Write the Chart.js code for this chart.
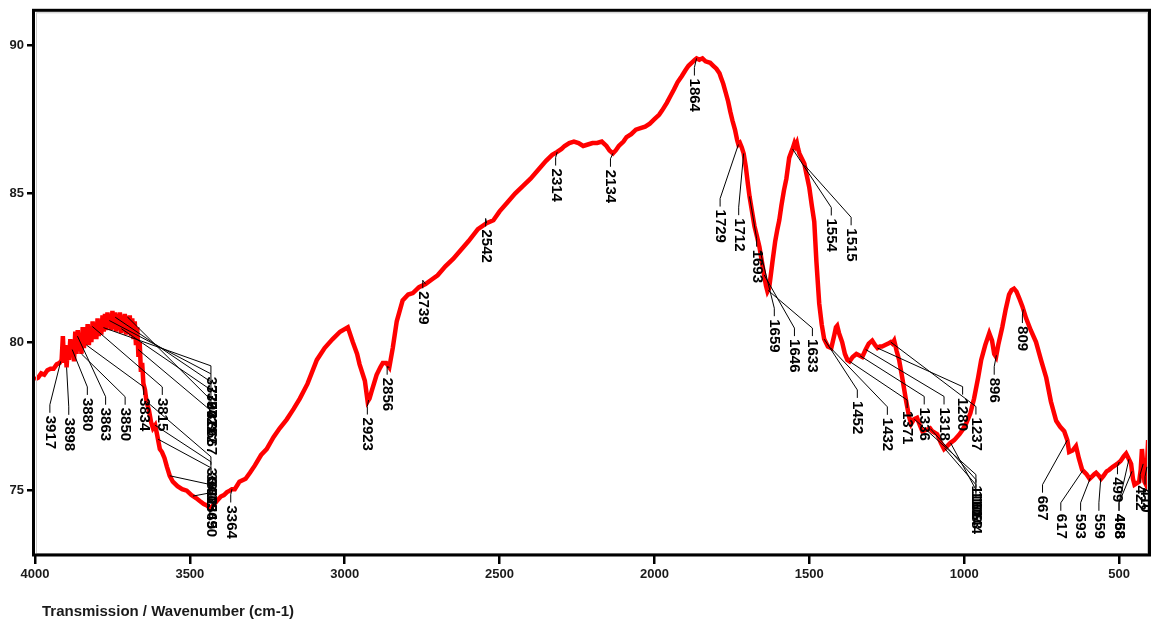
<!DOCTYPE html>
<html>
<head>
<meta charset="utf-8">
<title>IR spectrum</title>
<script src="https://cdn.jsdelivr.net/npm/chart.js@4/dist/chart.umd.min.js"></script>
<style>
  html, body { margin: 0; padding: 0; background: #fff; }
  #wrap { width: 1152px; height: 623px; }
</style>
</head>
<body>
<div id="wrap"><canvas id="ir" width="1152" height="623"></canvas></div>
<script>
// spectrum, wavenumber (cm-1) against transmission (%)
const wavenumbers = [
  4000, 3990, 3980, 3970, 3960, 3950, 3940, 3930, 3920, 3914, 3910, 3906, 3902, 3898, 3894, 3890,
  3886, 3882, 3878, 3874, 3870, 3866, 3862, 3858, 3854, 3850, 3846, 3842, 3838, 3834, 3830, 3826,
  3822, 3818, 3814, 3810, 3806, 3802, 3798, 3794, 3790, 3786, 3782, 3778, 3774, 3770, 3766, 3762,
  3758, 3754, 3750, 3746, 3742, 3738, 3734, 3730, 3726, 3722, 3718, 3714, 3710, 3706, 3702, 3698,
  3694, 3690, 3686, 3682, 3678, 3674, 3670, 3666, 3662, 3658, 3654, 3650, 3645, 3640, 3632, 3625,
  3619, 3612, 3606, 3597, 3590, 3582, 3574, 3565, 3555, 3540, 3525, 3510, 3495, 3480, 3468, 3455,
  3445, 3435, 3425, 3413, 3400, 3390, 3380, 3371, 3364, 3355, 3340, 3320, 3306, 3290, 3270, 3252,
  3230, 3210, 3187, 3165, 3145, 3120, 3090, 3065, 3039, 3015, 2990, 2974, 2960, 2952, 2935, 2926,
  2920, 2913, 2897, 2885, 2877, 2866, 2856, 2845, 2832, 2813, 2795, 2780, 2760, 2739, 2720, 2700,
  2675, 2650, 2625, 2600, 2570, 2542, 2520, 2500, 2475, 2450, 2425, 2400, 2375, 2350, 2330, 2314,
  2300, 2290, 2275, 2260, 2245, 2230, 2215, 2200, 2185, 2170, 2155, 2145, 2134, 2125, 2115, 2100,
  2090, 2075, 2060, 2045, 2030, 2015, 2000, 1985, 1975, 1960, 1950, 1937, 1925, 1912, 1900, 1890,
  1880, 1870, 1864, 1855, 1845, 1835, 1820, 1810, 1800, 1790, 1785, 1778, 1770, 1762, 1755, 1748,
  1740, 1733, 1729, 1724, 1718, 1712, 1705, 1698, 1693, 1685, 1677, 1670, 1661, 1653, 1645, 1640,
  1635, 1630, 1625, 1619, 1610, 1603, 1597, 1590, 1582, 1574, 1565, 1558, 1554, 1548, 1544, 1540,
  1536, 1532, 1525, 1516, 1508, 1500, 1492, 1484, 1477, 1468, 1460, 1452, 1440, 1429, 1420, 1414,
  1410, 1404, 1394, 1385, 1377, 1370, 1360, 1348, 1338, 1329, 1318, 1308, 1297, 1288, 1280, 1272,
  1265, 1255, 1245, 1237, 1232, 1226, 1218, 1210, 1200, 1187, 1178, 1171, 1162, 1152, 1143, 1135,
  1120, 1110, 1103, 1095, 1087, 1075, 1065, 1055, 1045, 1032, 1015, 1005, 994, 980, 968, 955,
  945, 932, 919, 910, 903, 897, 890, 877, 866, 855, 847, 839, 831, 823, 812, 800,
  785, 768, 752, 735, 720, 703, 690, 677, 667, 661, 650, 639, 630, 619, 605, 595,
  590, 580, 574, 565, 558, 550, 540, 532, 520, 506, 495, 485, 477, 470, 461, 455,
  450, 442, 435, 430, 426, 422, 418, 413, 410, 406, 402, 400
];
const transmission = [
  78.75, 78.8, 78.95, 78.9, 79.05, 79.1, 79.1, 79.25, 79.3, 79.4, 80.2, 79.3, 79.9, 79.15, 79.8, 79.4,
  80.1, 79.5, 80.0, 79.35, 80.35, 79.6, 80.4, 79.7, 80.3, 79.6, 80.5, 79.8, 80.5, 79.9, 80.6, 79.9,
  80.5, 80.0, 80.7, 80.1, 80.65, 80.1, 80.8, 80.2, 80.75, 80.25, 80.9, 80.35, 80.95, 80.4, 81.0, 80.5,
  80.95, 80.4, 81.05, 80.45, 81.0, 80.35, 80.95, 80.4, 81.0, 80.3, 80.9, 80.35, 80.95, 80.25, 80.85, 80.3,
  80.9, 80.2, 80.8, 80.1, 80.7, 79.9, 80.5, 79.5, 80.0, 79.0, 79.3, 78.6, 78.4, 78.0, 77.7, 77.3,
  77.1, 77.2, 76.9, 76.4, 76.3, 76.1, 75.8, 75.5, 75.3, 75.15, 75.05, 75.0, 74.85, 74.75, 74.65, 74.55,
  74.5, 74.4, 74.5, 74.65, 74.8, 74.85, 74.95, 75.0, 75.05, 75.05, 75.3, 75.4, 75.6, 75.85, 76.2, 76.4,
  76.8, 77.1, 77.4, 77.75, 78.1, 78.6, 79.4, 79.8, 80.1, 80.35, 80.5, 80.0, 79.6, 79.25, 78.7, 78.0,
  78.1, 78.35, 78.9, 79.15, 79.3, 79.3, 79.15, 79.8, 80.7, 81.4, 81.6, 81.65, 81.85, 81.95, 82.1, 82.25,
  82.55, 82.8, 83.1, 83.4, 83.8, 84.0, 84.1, 84.4, 84.7, 85.0, 85.25, 85.5, 85.8, 86.1, 86.3, 86.4,
  86.5, 86.6, 86.7, 86.75, 86.7, 86.6, 86.65, 86.7, 86.7, 86.75, 86.6, 86.45, 86.35, 86.45, 86.6, 86.75,
  86.9, 87.0, 87.15, 87.2, 87.25, 87.35, 87.5, 87.65, 87.8, 88.05, 88.25, 88.5, 88.75, 88.95, 89.15, 89.3,
  89.4, 89.5, 89.55, 89.5, 89.55, 89.45, 89.4, 89.3, 89.2, 89.05, 88.9, 88.7, 88.4, 88.1, 87.75, 87.45,
  87.15, 86.8, 86.65, 86.7, 86.55, 86.35, 85.9, 85.3, 84.9, 84.4, 83.9, 83.6, 83.2, 82.7, 82.2, 81.9,
  81.7, 81.8, 82.2, 82.7, 83.4, 83.8, 84.1, 84.6, 85.1, 85.5, 86.2, 86.4, 86.5, 86.7, 86.6, 86.7,
  86.5, 86.35, 86.2, 86.0, 85.6, 85.2, 84.6, 84.05, 82.7, 81.3, 80.6, 80.1, 79.85, 79.8, 80.2, 80.5,
  80.55, 80.3, 80.0, 79.6, 79.4, 79.35, 79.5, 79.6, 79.55, 79.5, 79.75, 79.95, 80.05, 79.9, 79.8, 79.85,
  79.85, 79.9, 79.95, 80.0, 79.95, 80.05, 79.7, 79.4, 78.8, 78.0, 77.5, 77.25, 77.4, 77.45, 77.2, 77.0,
  77.05, 77.1, 77.0, 76.95, 76.9, 76.6, 76.4, 76.5, 76.6, 76.7, 76.9, 77.05, 77.25, 77.6, 78.1, 78.8,
  79.4, 79.9, 80.3, 80.05, 79.6, 79.5, 79.9, 80.5, 81.1, 81.6, 81.75, 81.8, 81.7, 81.5, 81.2, 80.8,
  80.4, 80.0, 79.4, 78.8, 78.0, 77.35, 77.15, 77.0, 76.7, 76.3, 76.35, 76.5, 76.1, 75.7, 75.55, 75.4,
  75.45, 75.55, 75.6, 75.5, 75.4, 75.5, 75.65, 75.7, 75.8, 75.9, 76.0, 76.15, 76.25, 76.1, 75.9, 75.4,
  75.2, 75.25, 75.3, 75.7, 76.4, 75.9, 75.3, 75.2, 75.8, 76.7, 76.2, 76.4
];

const xTickValues = [4000, 3500, 3000, 2500, 2000, 1500, 1000, 500];
const yTickValues = [75, 80, 85, 90];

// picked peaks (cm-1)
const peaks = [
  3917, 3898, 3880, 3863, 3850, 3834, 3815,
  3779, 3760, 3741, 3721, 3702, 3667,
  3640, 3612, 3603, 3565, 3490, 3364,
  2923, 2856, 2739, 2542, 2314, 2134, 1864,
  1729, 1712, 1693, 1659, 1646, 1633, 1554, 1515,
  1452, 1432, 1371, 1336, 1318, 1280, 1237,
  1161, 1109, 1063, 1044, 896, 809,
  667, 617, 593, 559, 499, 468, 458, 422, 410
];
// where each peak's text starts, as [wavenumber, transmission]
const peakLabelSpots = [
  [3952, 77.52], [3891, 77.45], [3831, 78.12], [3772, 77.79], [3709, 77.79], [3649, 78.12], [3589, 78.12],
  [3432, 78.83], [3432, 78.56], [3432, 78.29], [3432, 78.02], [3432, 77.68], [3432, 77.32],
  [3432, 75.77], [3432, 75.6], [3432, 75.4], [3432, 74.83], [3432, 74.56], [3368, 74.5],
  [2927, 77.46], [2863, 78.8], [2748, 81.71], [2545, 83.79], [2319, 85.84], [2142, 85.8], [1871, 88.87],
  [1788, 84.46], [1728, 84.17], [1670, 83.11], [1613, 80.77], [1548, 80.1], [1490, 80.1], [1429, 84.16], [1365, 83.83],
  [1345, 78.02], [1248, 77.45], [1184, 77.68], [1129, 77.8], [1065, 77.8], [1005, 78.13], [962, 77.46],
  [962, 75.17], [962, 75.0], [962, 74.83], [962, 74.66], [903, 78.8], [812, 80.54],
  [747, 74.83], [688, 74.22], [624, 74.22], [565, 74.22], [505, 75.45], [500, 74.22], [500, 74.22], [432, 75.17], [416, 75.1]
];

const FONT = '"Liberation Sans", Arial, sans-serif';
Chart.defaults.font.family = FONT;

function transmissionAt(wn) {
  for (let i = 1; i < wavenumbers.length; i++) {
    if (wn >= wavenumbers[i]) {
      const w0 = wavenumbers[i - 1], w1 = wavenumbers[i];
      const f = (w0 - wn) / (w0 - w1);
      return transmission[i - 1] + f * (transmission[i] - transmission[i - 1]);
    }
  }
  return transmission[transmission.length - 1];
}

// heavy black box round the plot, with a faint grey edge inside it
const framePlugin = {
  id: 'frame',
  afterDatasetsDraw(chart) {
    const {ctx, chartArea: a} = chart;
    ctx.save();
    ctx.strokeStyle = '#c8c8c8';
    ctx.lineWidth = 1;
    ctx.strokeRect(a.left + 1.5, a.top + 2, a.right - a.left - 4, a.bottom - a.top - 4.5);
    ctx.strokeStyle = '#000';
    ctx.lineWidth = 3;
    ctx.strokeRect(a.left - 1.5, a.top - 0.5, a.right - a.left + 1, a.bottom - a.top - 0.5);
    ctx.restore();
  }
};

// vertical peak numbers with leader lines back to the trace
const peakLabelPlugin = {
  id: 'peakLabels',
  afterDatasetsDraw(chart) {
    const {ctx, scales: {x, y}} = chart;
    ctx.save();
    ctx.strokeStyle = '#000';
    ctx.fillStyle = '#000';
    ctx.lineWidth = 1;
    ctx.font = 'bold 15px ' + FONT;
    ctx.textAlign = 'left';
    ctx.textBaseline = 'middle';
    peaks.forEach((wn, i) => {
      const ax = x.getPixelForValue(wn);
      const ay = y.getPixelForValue(transmissionAt(wn));
      const lx = x.getPixelForValue(peakLabelSpots[i][0]);
      const ly = y.getPixelForValue(peakLabelSpots[i][1]);
      ctx.beginPath();
      ctx.moveTo(ax, ay);
      ctx.lineTo(lx, ly - 11);
      ctx.lineTo(lx, ly - 3);
      ctx.stroke();
      ctx.save();
      ctx.translate(lx, ly);
      ctx.rotate(Math.PI / 2);
      ctx.fillText(String(wn), 0, 0);
      ctx.restore();
    });
    ctx.restore();
  }
};

const axisTitlePlugin = {
  id: 'axisTitle',
  afterDraw(chart) {
    const {ctx} = chart;
    ctx.save();
    ctx.fillStyle = '#1a1a1a';
    ctx.font = 'bold 15px ' + FONT;
    ctx.textAlign = 'left';
    ctx.textBaseline = 'alphabetic';
    ctx.fillText('Transmission / Wavenumber (cm-1)', 42, 616);
    ctx.restore();
  }
};

const tickFont = {family: FONT, size: 13, weight: 'bold'};

new Chart(document.getElementById('ir'), {
  type: 'scatter',
  data: {
    datasets: [{
      data: wavenumbers.map((wn, i) => ({x: wn, y: transmission[i]})),
      showLine: true,
      borderColor: '#ff0000',
      borderWidth: 4.5,
      pointRadius: 0,
      tension: 0
    }]
  },
  options: {
    responsive: false,
    animation: false,
    devicePixelRatio: 1,
    layout: {padding: {top: 9, right: 2, left: 0, bottom: 0}},
    plugins: {legend: {display: false}, tooltip: {enabled: false}},
    scales: {
      x: {
        type: 'linear',
        reverse: true,
        min: 400,
        max: 4000,
        afterBuildTicks: scale => { scale.ticks = xTickValues.map(v => ({value: v})); },
        afterFit: scale => { scale.height = 67; },
        border: {display: false},
        grid: {drawOnChartArea: false, drawTicks: true, tickLength: 8, lineWidth: 2.5, color: '#000'},
        ticks: {font: tickFont, color: '#1a1a1a', padding: 3, maxRotation: 0, callback: v => String(v)}
      },
      y: {
        min: 72.8,
        max: 91.15,
        afterBuildTicks: scale => { scale.ticks = yTickValues.map(v => ({value: v})); },
        afterFit: scale => { scale.width = 35; },
        border: {display: false},
        grid: {drawOnChartArea: false, drawTicks: true, tickLength: 8, lineWidth: 2.5, color: '#000'},
        ticks: {font: tickFont, color: '#1a1a1a', padding: 3, callback: v => String(v)}
      }
    }
  },
  plugins: [framePlugin, peakLabelPlugin, axisTitlePlugin]
});
</script>
</body>
</html>
